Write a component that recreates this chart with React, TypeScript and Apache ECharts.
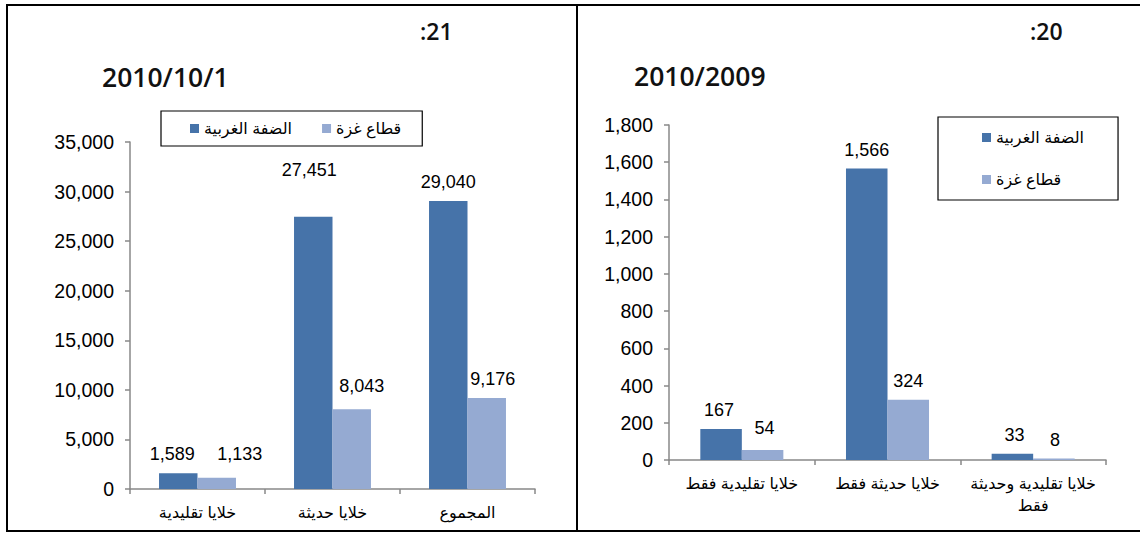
import React, { useEffect, useRef } from "react";
import * as echarts from "echarts";

// ---- Data ----
const seriesNames = ["الضفة الغربية", "قطاع غزة"];

const leftCategories = ["خلايا تقليدية", "خلايا حديثة", "المجموع"];
const leftWestBank = [1589, 27451, 29040];
const leftGaza = [1133, 8043, 9176];
const leftTicks = { min: 0, max: 35000, interval: 5000 };

const rightCategories = ["خلايا تقليدية فقط", "خلايا حديثة فقط", "خلايا تقليدية وحديثة\nفقط"];
const rightWestBank = [167, 1566, 33];
const rightGaza = [54, 324, 8];
const rightTicks = { min: 0, max: 1800, interval: 200 };

const leftTitleNum = ":21";
const leftTitleDate = "2010/10/1";
const rightTitleNum = ":20";
const rightTitleDate = "2010/2009";

// label nudges (pixels) to mimic the hand-placed labels of the original
const leftWestShift = [[-6, 0], [-4, -28], [0, 0]];
const leftGazaShift = [[23, -5], [10, -4], [6, 0]];
const rightWestShift = [[-2, 0], [0, 0], [2, 0]];
const rightGazaShift = [[2, -3], [0, 0], [1, 0]];

const DARK = "#4673A9";
const LIGHT = "#95AAD2";
const AXIS = "#888888";
const FONT = "'Liberation Sans', Arial, 'DejaVu Sans', sans-serif";
const TITLE_FONT = "'Open Sans', 'DejaVu Sans', sans-serif";

const fmt = (v: number) => v.toLocaleString("en-US");

function mkData(values: number[], shifts: number[][]) {
  return values.map((v, i) => ({ value: v, label: { offset: shifts[i] } }));
}

function barSeries(name: string, color: string, values: number[], shifts: number[][], idx: number) {
  return {
    type: "bar",
    name,
    xAxisIndex: idx,
    yAxisIndex: idx,
    barGap: "0%",
    barCategoryGap: "43%",
    itemStyle: { color },
    label: {
      show: true,
      position: "top",
      distance: 10,
      color: "#000",
      fontSize: 18,
      fontFamily: FONT,
      formatter: (p: any) => fmt(p.value),
    },
    data: mkData(values, shifts),
  };
}

function valueAxis(idx: number, t: { min: number; max: number; interval: number }) {
  return {
    type: "value",
    gridIndex: idx,
    min: t.min,
    max: t.max,
    interval: t.interval,
    axisLine: { show: true, lineStyle: { color: AXIS, width: 1.5 } },
    axisTick: { show: true, length: 5, lineStyle: { color: AXIS, width: 1.5 } },
    splitLine: { show: false },
    axisLabel: {
      color: "#000",
      fontSize: 19.5,
      fontFamily: FONT,
      margin: 16,
      formatter: (v: number) => fmt(v),
    },
  };
}

function catAxis(idx: number, cats: string[]) {
  return {
    type: "category",
    gridIndex: idx,
    data: cats,
    axisLine: { show: true, lineStyle: { color: AXIS, width: 1.5 } },
    axisTick: { show: true, length: 5, lineStyle: { color: AXIS, width: 1.5 } },
    axisLabel: {
      color: "#000",
      fontSize: 16,
      fontFamily: FONT,
      margin: 12,
      lineHeight: 22,
      interval: 0,
    },
  };
}

function titleText(text: string, x: number, y: number, size: number) {
  return {
    type: "text",
    x,
    y,
    style: {
      text,
      fontSize: size,
      fontWeight: 600,
      fontFamily: TITLE_FONT,
      fill: "#111",
      align: "left",
      verticalAlign: "middle",
    },
  };
}

export default function App() {
  const ref = useRef<HTMLDivElement>(null);
  useEffect(() => {
    document.body.style.margin = "0";
    const chart = echarts.init(ref.current!, undefined, { renderer: "svg" });
    const option: any = {
      animation: false,
      backgroundColor: "#fff",
      grid: [
        { left: 130, right: 1140 - 535, top: 142, bottom: 533 - 489 },
        { left: 669, right: 1140 - 1106, top: 125, bottom: 533 - 460 },
      ],
      xAxis: [catAxis(0, leftCategories), catAxis(1, rightCategories)],
      yAxis: [valueAxis(0, leftTicks), valueAxis(1, rightTicks)],
      legend: [
        {
          data: seriesNames,
          orient: "horizontal",
          left: 161,
          top: 111,
          padding: [9, 21, 9, 29],
          itemGap: 30,
          itemWidth: 9,
          itemHeight: 9,
          borderColor: "#000",
          borderWidth: 1.2,
          textStyle: { fontSize: 16, fontFamily: FONT, color: "#000", lineHeight: 17 },
          icon: "rect",
        },
        {
          data: seriesNames,
          orient: "vertical",
          left: 938,
          top: 117,
          padding: [12, 34, 12, 44],
          itemGap: 25,
          itemWidth: 9,
          itemHeight: 9,
          borderColor: "#000",
          borderWidth: 1.2,
          textStyle: { fontSize: 16, fontFamily: FONT, color: "#000", lineHeight: 17 },
          icon: "rect",
        },
      ],
      series: [
        barSeries(seriesNames[0], DARK, leftWestBank, leftWestShift, 0),
        barSeries(seriesNames[1], LIGHT, leftGaza, leftGazaShift, 0),
        barSeries(seriesNames[0], DARK, rightWestBank, rightWestShift, 1),
        barSeries(seriesNames[1], LIGHT, rightGaza, rightGazaShift, 1),
      ],
      graphic: [
        { type: "line", shape: { x1: 6, y1: 5, x2: 1140, y2: 5 }, style: { stroke: "#000", lineWidth: 2 } },
        { type: "line", shape: { x1: 7, y1: 4, x2: 7, y2: 532 }, style: { stroke: "#000", lineWidth: 2 } },
        { type: "line", shape: { x1: 6, y1: 531, x2: 1140, y2: 531 }, style: { stroke: "#000", lineWidth: 2 } },
        { type: "line", shape: { x1: 577, y1: 4, x2: 577, y2: 532 }, style: { stroke: "#000", lineWidth: 2 } },
        titleText(leftTitleNum, 420, 31, 23),
        titleText(leftTitleDate, 102, 77, 26.5),
        titleText(rightTitleNum, 1030, 31, 23),
        titleText(rightTitleDate, 634, 76, 26.5),
      ],
    };
    chart.setOption(option);
    return () => chart.dispose();
  }, []);
  return (
    <div
      ref={ref}
      style={{ position: "fixed", left: 0, top: 0, width: 1140, height: 533, background: "#fff" }}
    />
  );
}
